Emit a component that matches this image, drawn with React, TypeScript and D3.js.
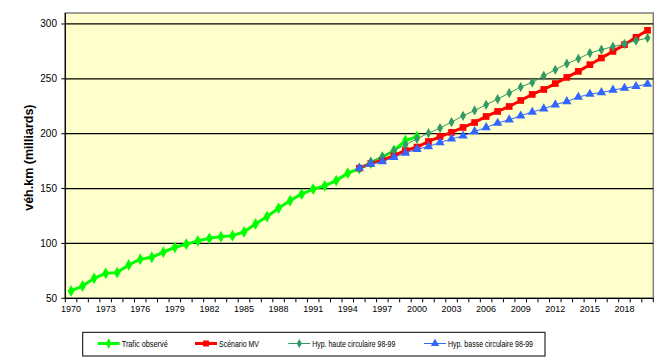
import React from "react";
import * as d3 from "d3";

const years: number[] = d3.range(1970, 2021);
const yTicks = [50, 100, 150, 200, 250, 300];
const xLabelYears = d3.range(1970, 2021, 3).filter((y) => y <= 2018);

const observedYears = d3.range(1970, 2001);
const observed = [56.7, 61.2, 68.2, 72.8, 73.4, 80.4, 85.6, 87.4, 92, 96.5, 99.3, 102.3, 104.7, 106.2, 107.1, 110.5, 117.8, 124.5, 132.1, 139.1, 144.9, 149.5, 152.5, 157.3, 164, 168.2, 173.2, 178.6, 184.7, 193.8, 197.4];

const projYears = d3.range(1995, 2021);
const scenarioMV = [168.6, 173.0, 175.6, 180.1, 184.7, 187.8, 192.9, 197.4, 201.2, 205.7, 210.2, 215.7, 220.3, 224.8, 230.3, 235.8, 240.3, 245.7, 251.3, 256.8, 262.9, 269, 275, 281.1, 287.8, 294.2];
const hypHaute = [168.6, 174.6, 179.2, 184.7, 189.9, 195.3, 200.5, 205.1, 210.6, 216.3, 221.2, 226.4, 231.6, 237, 242.5, 246.7, 252.8, 258.3, 263.8, 268.3, 273.5, 276.6, 279.3, 281.8, 284.8, 287.2];
const hypBasse = [168.6, 172.3, 174.6, 178.6, 182.3, 185.9, 188.3, 192, 195.3, 198.1, 202, 205.7, 209.7, 212.7, 216.3, 219.7, 222.8, 226.4, 229.4, 233.4, 236.1, 237.6, 239.8, 241.6, 243.1, 245.3];

const legendLabels = ["Trafic observé", "Scénario MV", "Hyp. haute circulaire 98-99", "Hyp. basse circulaire 98-99"];

const W = 669, H = 361;
const L = 65.3, R = 653.3, T = 13, B = 298.3;

const x = d3.scaleBand<number>().domain(years).range([L, R]).padding(0);
const y = d3.scaleLinear().domain([50, 310]).range([B, T]);
const cx = (yr: number) => (x(yr) as number) + x.bandwidth() / 2;

type Marker = "diamond" | "square" | "triangle";
const symbolFor = (m: Marker, size: number) => {
  const t = m === "diamond" ? d3.symbolDiamond : m === "square" ? d3.symbolSquare : d3.symbolTriangle;
  return d3.symbol().type(t).size(size)() as string;
};

interface Series { yrs: number[]; vals: number[]; color: string; width: number; marker: Marker; size: number; }
const series: Series[] = [
  { yrs: observedYears, vals: observed, color: "#00FF00", width: 3, marker: "diamond", size: 40 },
  { yrs: projYears, vals: scenarioMV, color: "#FF0000", width: 3, marker: "square", size: 45 },
  { yrs: projYears, vals: hypHaute, color: "#339966", width: 1, marker: "diamond", size: 30 },
  { yrs: projYears, vals: hypBasse, color: "#3366FF", width: 1, marker: "triangle", size: 38 },
];

const lineGen = d3.line<[number, number]>().x((d) => cx(d[0])).y((d) => y(d[1]));

export default function App() {
  const font = "Arial, 'Liberation Sans', sans-serif";
  const legendX = [97.7, 195, 288.3, 424];
  const legendTextW = [46, 40, 83, 85];
  return (
    <svg width={W} height={H} style={{ position: "absolute", left: 0, top: 0, background: "#fff" }} fontFamily={font}>
      <rect x={L} y={T} width={R - L} height={B - T} fill="#FFFFCC" stroke="#808080" strokeWidth={1.5} />
      {yTicks.filter((v) => v > 50).map((v) => (
        <line key={v} x1={L} x2={R} y1={y(v)} y2={y(v)} stroke="#000" strokeWidth={1.2} />
      ))}
      <line x1={L} x2={L} y1={T} y2={B} stroke="#000" strokeWidth={1.2} />
      <line x1={L} x2={R} y1={B} y2={B} stroke="#000" strokeWidth={1.2} />
      {yTicks.map((v) => (
        <g key={v}>
          <line x1={L - 4} x2={L} y1={y(v)} y2={y(v)} stroke="#000" />
          <text x={57} y={y(v)} dy="0.35em" textAnchor="end" fontSize={10}>{v}</text>
        </g>
      ))}
      {years.concat([2021]).map((yr) => {
        const xx = yr === 2021 ? R : (x(yr) as number);
        return <line key={yr} x1={xx} x2={xx} y1={B} y2={B + 4} stroke="#000" />;
      })}
      {xLabelYears.map((yr) => (
        <text key={yr} x={cx(yr)} y={312} textAnchor="middle" fontSize={9}>{yr}</text>
      ))}
      <text transform={`translate(33,${(T + B) / 2 + 2}) rotate(-90)`} textAnchor="middle" fontSize={12.5} fontWeight="bold">véh.km (milliards)</text>
      {series.map((s, i) => {
        const pts: [number, number][] = s.yrs.map((yr, j) => [yr, s.vals[j]]);
        const sym = symbolFor(s.marker, s.size);
        return (
          <g key={i}>
            <path d={lineGen(pts) as string} fill="none" stroke={s.color} strokeWidth={s.width} />
            {pts.map((p, j) => (
              <path key={j} d={sym} transform={`translate(${cx(p[0])},${y(p[1])})`} fill={s.color} />
            ))}
          </g>
        );
      })}
      <rect x={82.7} y={332.3} width={462.3} height={23.7} fill="#fff" stroke="#000" strokeWidth={1} />
      {series.map((s, i) => (
        <g key={i}>
          <line x1={legendX[i]} x2={legendX[i] + 22} y1={343.5} y2={343.5} stroke={s.color} strokeWidth={s.width} />
          <path d={symbolFor(s.marker, s.size * 0.8)} transform={`translate(${legendX[i] + 11},343.5)`} fill={s.color} />
          <text x={legendX[i] + 24} y={343.5} dy="0.35em" fontSize={9} textLength={legendTextW[i]} lengthAdjust="spacingAndGlyphs">{legendLabels[i]}</text>
        </g>
      ))}
    </svg>
  );
}
